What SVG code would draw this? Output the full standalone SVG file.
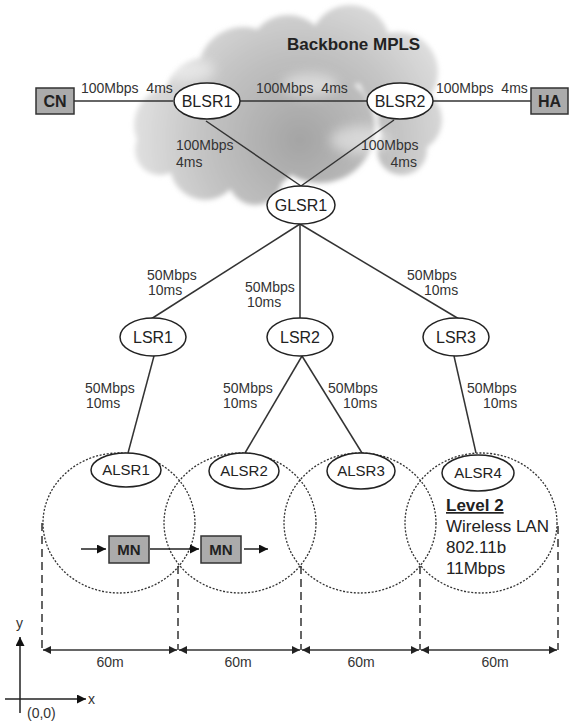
<svg xmlns="http://www.w3.org/2000/svg" width="571" height="721" viewBox="0 0 571 721">
<defs>
<radialGradient id="cg" gradientUnits="userSpaceOnUse" cx="300" cy="140" r="180">
<stop offset="0" stop-color="#a4a4a4"/>
<stop offset="0.55" stop-color="#c4c4c4"/>
<stop offset="1" stop-color="#e6e6e6"/>
</radialGradient>
<filter id="blur" x="-10%" y="-10%" width="120%" height="120%"><feGaussianBlur stdDeviation="2.5"/></filter>
<filter id="blur2" x="-30%" y="-30%" width="160%" height="160%"><feGaussianBlur stdDeviation="6"/></filter>
<marker id="ah" viewBox="0 0 10 10" refX="10" refY="5" markerWidth="9" markerHeight="8" markerUnits="userSpaceOnUse" orient="auto-start-reverse">
<path d="M0,0 L10,5 L0,10 z" fill="#222"/>
</marker>
<marker id="ah2" viewBox="0 0 10 10" refX="10" refY="5" markerWidth="11" markerHeight="9" markerUnits="userSpaceOnUse" orient="auto">
<path d="M0,0 L10,5 L0,10 z" fill="#111"/>
</marker>
</defs>
<style>
text{font-family:"Liberation Sans",Arial,sans-serif;fill:#333}
.lbl{font-size:14px}
.node{font-size:16px;fill:#222}
.anode{font-size:15px;fill:#222}
.bold{font-weight:bold;fill:#222}
.ell{fill:#fff;stroke:#222;stroke-width:1.5}
.box{fill:#ababab;stroke:#333;stroke-width:1.5}
.ln{stroke:#333;stroke-width:1.5;fill:none}
.cell{fill:none;stroke:#333;stroke-width:1.3;stroke-dasharray:2 1.6}
.dash{stroke:#333;stroke-width:1.5;stroke-dasharray:8 5;fill:none}
.dim{stroke:#333;stroke-width:1.5;fill:none;marker-start:url(#ah);marker-end:url(#ah)}
.arr{stroke:#222;stroke-width:1.5;fill:none;marker-end:url(#ah2)}
</style>

<g id="cloud" filter="url(#blur)" fill="url(#cg)">
<circle cx="172" cy="125" r="38"/>
<circle cx="205" cy="98" r="40"/>
<circle cx="243" cy="72" r="45"/>
<circle cx="288" cy="55" r="40"/>
<circle cx="350" cy="45" r="40"/>
<circle cx="398" cy="72" r="40"/>
<circle cx="410" cy="120" r="32"/>
<circle cx="402" cy="150" r="25"/>
<circle cx="320" cy="128" r="55"/>
<circle cx="250" cy="138" r="55"/>
<circle cx="205" cy="165" r="35"/>
<circle cx="255" cy="178" r="27"/>
<circle cx="160" cy="150" r="25"/>
</g>
<g id="cloud-highlights" filter="url(#blur2)" fill="#ffffff" opacity="0.45">
<ellipse cx="310" cy="85" rx="28" ry="12"/>
<ellipse cx="360" cy="140" rx="30" ry="14"/>
<ellipse cx="190" cy="70" rx="25" ry="12"/>
</g>
<text x="287" y="50" class="bold" style="font-size:17px">Backbone MPLS</text>

<g id="connectors">
<line class="ln" x1="74" y1="101" x2="173" y2="101"/>
<line class="ln" x1="240" y1="101" x2="367" y2="101"/>
<line class="ln" x1="433" y1="101" x2="531" y2="101"/>
<line class="ln" x1="206" y1="121" x2="301" y2="186"/>
<line class="ln" x1="394" y1="120" x2="301" y2="186"/>
<line class="ln" x1="300" y1="224" x2="151" y2="319"/>
<line class="ln" x1="300" y1="224" x2="300" y2="318"/>
<line class="ln" x1="300" y1="224" x2="459" y2="319"/>
<line class="ln" x1="154" y1="356" x2="128" y2="453"/>
<line class="ln" x1="302" y1="356" x2="245" y2="453"/>
<line class="ln" x1="302" y1="356" x2="362" y2="453"/>
<line class="ln" x1="454" y1="356" x2="476" y2="453"/>
</g>

<g id="link-labels">
<text class="lbl" x="81" y="93" xml:space="preserve">100Mbps  4ms</text>
<text class="lbl" x="256" y="93" xml:space="preserve">100Mbps  4ms</text>
<text class="lbl" x="436" y="93" xml:space="preserve">100Mbps  4ms</text>
<text class="lbl" x="176" y="150">100Mbps</text>
<text class="lbl" x="176" y="167">4ms</text>
<text class="lbl" x="361" y="150">100Mbps</text>
<text class="lbl" x="417" y="167" text-anchor="end">4ms</text>
<text class="lbl" x="147" y="280">50Mbps</text>
<text class="lbl" x="148" y="295">10ms</text>
<text class="lbl" x="245" y="292">50Mbps</text>
<text class="lbl" x="247" y="307">10ms</text>
<text class="lbl" x="407" y="280">50Mbps</text>
<text class="lbl" x="424" y="295">10ms</text>
<text class="lbl" x="85" y="393">50Mbps</text>
<text class="lbl" x="86" y="408">10ms</text>
<text class="lbl" x="223" y="393">50Mbps</text>
<text class="lbl" x="223" y="408">10ms</text>
<text class="lbl" x="328" y="393">50Mbps</text>
<text class="lbl" x="343" y="408">10ms</text>
<text class="lbl" x="467" y="393">50Mbps</text>
<text class="lbl" x="483" y="408">10ms</text>
</g>

<g id="CN"><rect class="box" x="36" y="88" width="38" height="26"/><text class="bold" x="55" y="107" text-anchor="middle" style="font-size:16px">CN</text></g>
<g id="HA"><rect class="box" x="531" y="88" width="37" height="26"/><text class="bold" x="549.5" y="107" text-anchor="middle" style="font-size:16px">HA</text></g>
<g id="BLSR1"><ellipse class="ell" cx="207" cy="101" rx="33" ry="18"/><text class="node" x="207" y="107" text-anchor="middle">BLSR1</text></g>
<g id="BLSR2"><ellipse class="ell" cx="400" cy="101" rx="33" ry="18"/><text class="node" x="400" y="107" text-anchor="middle">BLSR2</text></g>
<g id="GLSR1"><ellipse class="ell" cx="301" cy="205" rx="34" ry="19"/><text class="node" x="301" y="211" text-anchor="middle">GLSR1</text></g>
<g id="LSR1"><ellipse class="ell" cx="153" cy="337" rx="33" ry="19"/><text class="node" x="153" y="343" text-anchor="middle">LSR1</text></g>
<g id="LSR2"><ellipse class="ell" cx="300" cy="337" rx="33" ry="19"/><text class="node" x="300" y="343" text-anchor="middle">LSR2</text></g>
<g id="LSR3"><ellipse class="ell" cx="456" cy="337" rx="33" ry="19"/><text class="node" x="456" y="343" text-anchor="middle">LSR3</text></g>

<g id="cells">
<ellipse class="cell" cx="119" cy="523" rx="76" ry="70"/>
<ellipse class="cell" cx="240" cy="523" rx="76" ry="70"/>
<ellipse class="cell" cx="360" cy="523" rx="76" ry="70"/>
<ellipse class="cell" cx="481" cy="523" rx="76" ry="70"/>
</g>

<g id="ALSR1"><ellipse class="ell" cx="126" cy="470" rx="35" ry="17"/><text class="anode" x="126" y="475" text-anchor="middle">ALSR1</text></g>
<g id="ALSR2"><ellipse class="ell" cx="244" cy="471" rx="35" ry="18"/><text class="anode" x="244" y="476" text-anchor="middle">ALSR2</text></g>
<g id="ALSR3"><ellipse class="ell" cx="361" cy="471" rx="34" ry="18"/><text class="anode" x="361" y="476" text-anchor="middle">ALSR3</text></g>
<g id="ALSR4"><ellipse class="ell" cx="478" cy="473" rx="36" ry="18"/><text class="anode" x="478" y="478" text-anchor="middle">ALSR4</text></g>

<g id="level2">
<text class="bold" x="446" y="511" style="font-size:17px;text-decoration:underline">Level 2</text>
<text x="446" y="532" style="font-size:17px;fill:#222">Wireless LAN</text>
<text x="446" y="553" style="font-size:17px;fill:#222">802.11b</text>
<text x="446" y="574" style="font-size:17px;fill:#222">11Mbps</text>
</g>

<g id="movement">
<line class="arr" x1="81" y1="549" x2="106" y2="549"/>
<line class="arr" x1="150" y1="549" x2="199" y2="549"/>
<line class="arr" x1="244" y1="549" x2="268" y2="549"/>
</g>
<g id="MN1"><rect class="box" x="109" y="536" width="40" height="27"/><text class="bold" x="129" y="555" text-anchor="middle" style="font-size:15px">MN</text></g>
<g id="MN2"><rect class="box" x="201" y="536" width="40" height="27"/><text class="bold" x="221" y="555" text-anchor="middle" style="font-size:15px">MN</text></g>

<g id="dimensions">
<line class="dash" x1="42" y1="523" x2="42" y2="650"/>
<line class="dash" x1="178" y1="566" x2="178" y2="650"/>
<line class="dash" x1="301" y1="566" x2="301" y2="650"/>
<line class="dash" x1="420" y1="566" x2="420" y2="650"/>
<line class="dash" x1="558" y1="526" x2="558" y2="650"/>
<line class="dim" x1="43" y1="650" x2="177" y2="650"/>
<line class="dim" x1="179" y1="650" x2="300" y2="650"/>
<line class="dim" x1="302" y1="650" x2="419" y2="650"/>
<line class="dim" x1="421" y1="650" x2="557" y2="650"/>
<text class="lbl" x="110" y="667" text-anchor="middle">60m</text>
<text class="lbl" x="238" y="667" text-anchor="middle">60m</text>
<text class="lbl" x="361" y="667" text-anchor="middle">60m</text>
<text class="lbl" x="495" y="667" text-anchor="middle">60m</text>
</g>

<g id="axes">
<line class="arr" x1="20" y1="713" x2="20" y2="637"/>
<line class="arr" x1="5" y1="699" x2="86" y2="699"/>
<text class="lbl" x="16" y="628">y</text>
<text class="lbl" x="88" y="704">x</text>
<text class="lbl" x="27" y="718">(0,0)</text>
</g>
</svg>
